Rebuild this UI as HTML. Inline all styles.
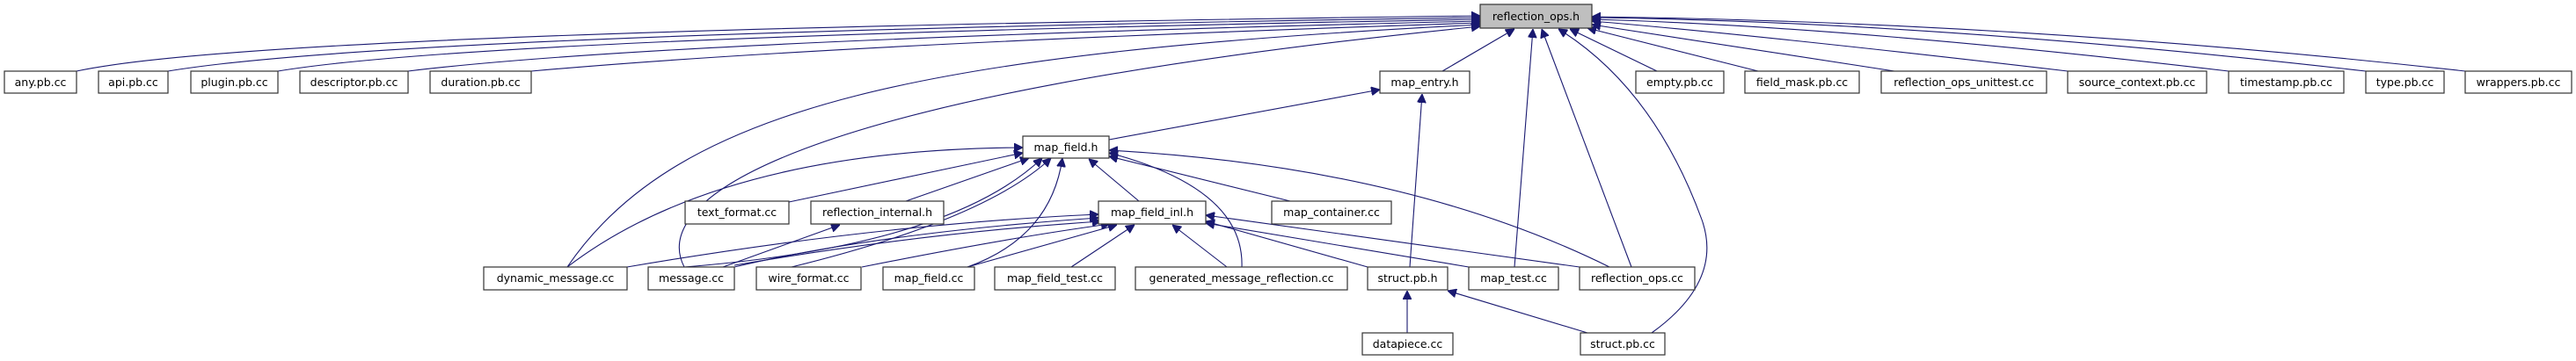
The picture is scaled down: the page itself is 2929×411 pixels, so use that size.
<!DOCTYPE html>
<html><head><meta charset="utf-8"><style>
html,body{margin:0;padding:0;background:#fff;}
svg{display:block;}
text{font-family:"DejaVu Sans","Liberation Sans",sans-serif;font-size:12.5px;fill:#000;}
.b{fill:#fff;stroke:#333;stroke-width:1.2;}
.e{fill:none;stroke:#191970;stroke-width:1.1;}
</style></head><body>
<svg width="2929" height="411" viewBox="0 0 2929 411" xmlns="http://www.w3.org/2000/svg">
<defs>
<marker id="a" viewBox="0 0 10 10" refX="10" refY="5" markerWidth="10" markerHeight="10" markerUnits="userSpaceOnUse" orient="auto">
<path d="M0,0 L10,5 L0,10 z" fill="#191970" stroke="#191970"/>
</marker>
</defs>
<g class="e" marker-end="url(#a)">
<path d="M87,81 Q300,35 1683,18"/>
<path d="M191,81 Q450,38 1683,20"/>
<path d="M316,81 Q550,42 1683,22"/>
<path d="M464,81 Q750,46 1683,24"/>
<path d="M604,81 Q950,50 1683,26"/>
<path d="M645,304 C770,120 1050,60 1683,28"/>
<path d="M778,304 C740,230 880,110 1683,30"/>
<path d="M1640,81 L1722,33"/>
<path d="M1722,304 L1743,33"/>
<path d="M1855,304 L1753,33"/>
<path d="M1878,379 Q1960,320 1935,250 Q1880,100 1772,33"/>
<path d="M1884,81 L1785,33"/>
<path d="M1999,81 L1805,32"/>
<path d="M2154,81 L1810,28"/>
<path d="M2351,81 Q2000,40 1810,24"/>
<path d="M2534,81 Q2100,30 1810,22"/>
<path d="M2690,81 Q2200,25 1810,20"/>
<path d="M2803,81 Q2300,25 1810,19"/>
<path d="M1261,159 L1569,102"/>
<path d="M1603,304 L1617,107"/>
<path d="M645,304 Q820,170 1163,168"/>
<path d="M897,230 L1163,174"/>
<path d="M1030,229 L1170,180"/>
<path d="M778,304 Q1080,280 1185,180"/>
<path d="M900,304 Q1120,250 1195,180"/>
<path d="M1100,304 Q1195,270 1208,180"/>
<path d="M1295,229 L1238,181"/>
<path d="M1467,229 L1261,178"/>
<path d="M1412,304 Q1415,215 1261,174"/>
<path d="M1830,304 Q1600,190 1261,171"/>
<path d="M713,304 Q1000,255 1249,244"/>
<path d="M835,304 Q1000,265 1249,248"/>
<path d="M835,302 Q1050,265 1252,252"/>
<path d="M980,304 Q1150,270 1262,255"/>
<path d="M1100,304 L1270,256"/>
<path d="M1218,304 L1290,256"/>
<path d="M1395,304 L1333,256"/>
<path d="M1555,304 L1371,252"/>
<path d="M1670,304 L1371,254"/>
<path d="M1796,304 L1371,245"/>
<path d="M822,304 L955,256"/>
<path d="M1600,379 L1600,331"/>
<path d="M1805,379 L1646,331"/>
</g>
<g>
<rect x="1683" y="5" width="127" height="27" fill="#bfbfbf" stroke="#333" stroke-width="1.2"/>
<text x="1746.5" y="23" text-anchor="middle">reflection_ops.h</text>
</g>
<g text-anchor="middle">
<rect class="b" x="5" y="81" width="82" height="25"/><text x="46" y="98">any.pb.cc</text>
<rect class="b" x="112" y="81" width="79" height="25"/><text x="151.5" y="98">api.pb.cc</text>
<rect class="b" x="217" y="81" width="99" height="25"/><text x="266.5" y="98">plugin.pb.cc</text>
<rect class="b" x="341" y="81" width="123" height="25"/><text x="402.5" y="98">descriptor.pb.cc</text>
<rect class="b" x="489" y="81" width="115" height="25"/><text x="546.5" y="98">duration.pb.cc</text>
<rect class="b" x="1569" y="81" width="102" height="25"/><text x="1620" y="98">map_entry.h</text>
<rect class="b" x="1860" y="81" width="100" height="25"/><text x="1910" y="98">empty.pb.cc</text>
<rect class="b" x="1984" y="81" width="130" height="25"/><text x="2049" y="98">field_mask.pb.cc</text>
<rect class="b" x="2139" y="81" width="188" height="25"/><text x="2233" y="98">reflection_ops_unittest.cc</text>
<rect class="b" x="2351" y="81" width="158" height="25"/><text x="2430" y="98">source_context.pb.cc</text>
<rect class="b" x="2534" y="81" width="131" height="25"/><text x="2599.5" y="98">timestamp.pb.cc</text>
<rect class="b" x="2690" y="81" width="89" height="25"/><text x="2734.5" y="98">type.pb.cc</text>
<rect class="b" x="2803" y="81" width="121" height="25"/><text x="2863.5" y="98">wrappers.pb.cc</text>
<rect class="b" x="1163" y="155" width="98" height="25"/><text x="1212" y="172">map_field.h</text>
<rect class="b" x="779" y="229" width="118" height="26"/><text x="838" y="246">text_format.cc</text>
<rect class="b" x="922" y="229" width="151" height="26"/><text x="997.5" y="246">reflection_internal.h</text>
<rect class="b" x="1249" y="229" width="122" height="26"/><text x="1310" y="246">map_field_inl.h</text>
<rect class="b" x="1446" y="229" width="136" height="26"/><text x="1514" y="246">map_container.cc</text>
<rect class="b" x="550" y="304" width="163" height="26"/><text x="631.5" y="321">dynamic_message.cc</text>
<rect class="b" x="737" y="304" width="98" height="26"/><text x="786" y="321">message.cc</text>
<rect class="b" x="860" y="304" width="119" height="26"/><text x="919.5" y="321">wire_format.cc</text>
<rect class="b" x="1004" y="304" width="104" height="26"/><text x="1056" y="321">map_field.cc</text>
<rect class="b" x="1131" y="304" width="137" height="26"/><text x="1199.5" y="321">map_field_test.cc</text>
<rect class="b" x="1291" y="304" width="241" height="26"/><text x="1411.5" y="321">generated_message_reflection.cc</text>
<rect class="b" x="1555" y="304" width="91" height="26"/><text x="1600.5" y="321">struct.pb.h</text>
<rect class="b" x="1670" y="304" width="102" height="26"/><text x="1721" y="321">map_test.cc</text>
<rect class="b" x="1796" y="304" width="131" height="26"/><text x="1861.5" y="321">reflection_ops.cc</text>
<rect class="b" x="1549" y="379" width="103" height="25"/><text x="1600.5" y="396">datapiece.cc</text>
<rect class="b" x="1797" y="379" width="96" height="25"/><text x="1845" y="396">struct.pb.cc</text>
</g>
</svg>
</body></html>
